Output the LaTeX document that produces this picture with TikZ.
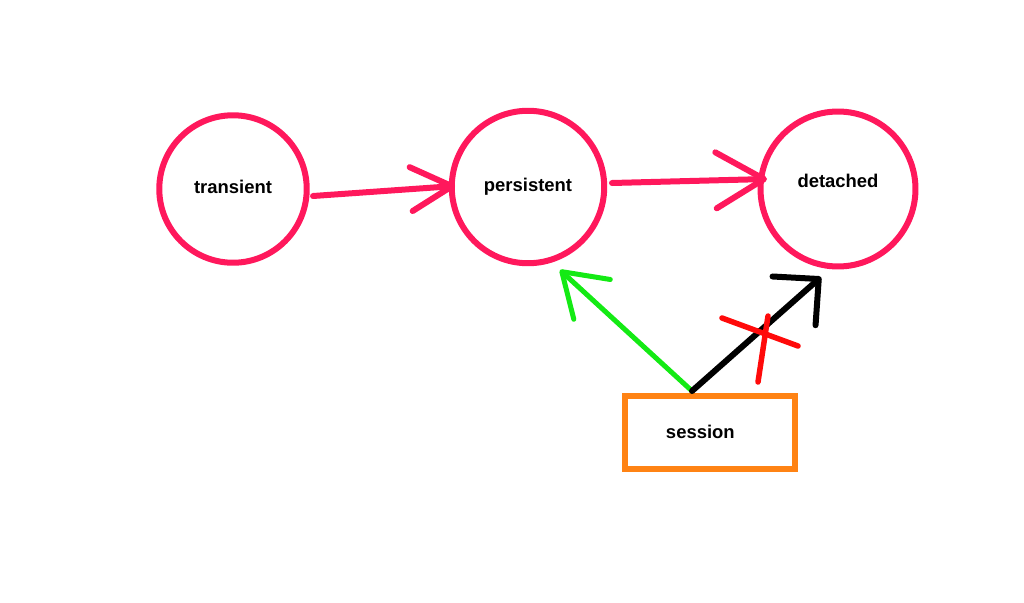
\documentclass[tikz,border=0pt]{standalone}
\usepackage{fontspec}
\setmainfont{Liberation Sans}
\usetikzlibrary{arrows.meta,calc}

\definecolor{statepink}{HTML}{FF185C}
\definecolor{sessorange}{HTML}{FF8314}
\definecolor{okgreen}{HTML}{14EA14}
\definecolor{xred}{HTML}{FF0A0A}

\begin{document}
\begin{tikzpicture}[x=0.02cm, y=-0.02cm,
    state/.style={draw=statepink, circle, line width=0.12cm, minimum size=#1,
      font=\fontsize{10.5}{12}\selectfont\bfseries},
    sessbox/.style={draw=sessorange, line width=0.12cm, minimum width=3.4cm,
      minimum height=1.46cm, font=\fontsize{10.5}{12}\selectfont\bfseries},
    flow/.style={statepink, line width=0.12cm, line cap=round}]
  \useasboundingbox (0,0) rectangle (1024,602);

  \node[state=2.95cm] (transient)  at (233,189) {\raisebox{2pt}{transient}};
  \node[state=3.05cm] (persistent) at (528,187) {persistent};
  \node[state=3.1cm]  (detached)   at (838,189) {\raisebox{9pt}{detached}};
  \node[sessbox]      (session)    at (710,432) {\hspace{-11pt}session};

  \coordinate (sessout)  at ($(session.center)+(-18,-41)$);
  \coordinate (pertouch) at ($(persistent.center)+(32,83)$);
  \coordinate (dettouch) at ($(detached.center)+(-17,88)$);

  \draw[flow, -{Straight Barb[round, length=0.82cm, width=0.88cm]}]
    ($(transient.center)+(80,7)$) to ($(persistent.center)+(-73,-1)$);
  \draw[flow, -{Straight Barb[round, length=0.96cm, width=1.12cm]}]
    ($(persistent.center)+(84,-4)$) to ($(detached.center)+(-71,-10)$);

  \draw[okgreen, line width=0.1cm, line cap=round,
    -{Straight Barb[round, length=0.82cm, width=1.08cm]}] (sessout) to (pertouch);
  \draw[black, line width=0.12cm, line cap=round,
    -{Straight Barb[round, length=0.66cm, width=1.3cm]}] (sessout) to (dettouch);

  % the cross over the session -> detached arrow
  \draw[xred, line width=0.11cm, line cap=round] (722,318) -- (798,346);
  \draw[xred, line width=0.11cm, line cap=round] (768,316) -- (758,382);
\end{tikzpicture}
\end{document}
